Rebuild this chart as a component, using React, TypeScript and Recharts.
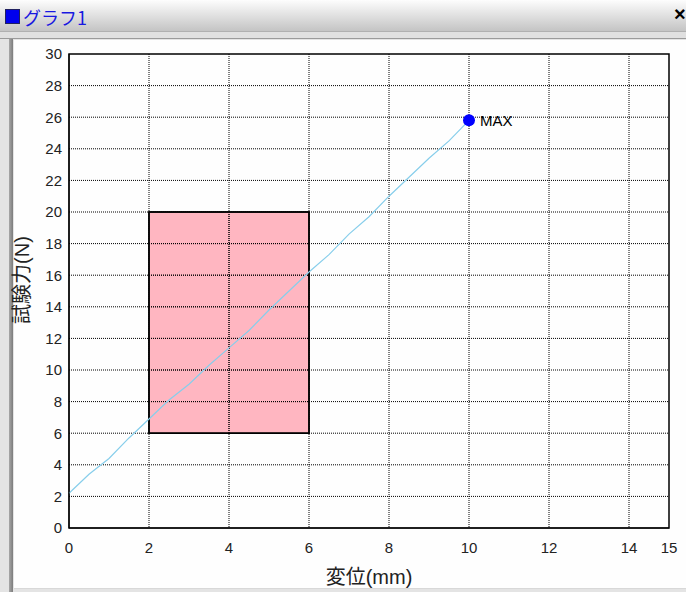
// 試験力-変位グラフ (グラフ1ウィンドウ)
import React from 'react';
import {
  ComposedChart,
  Line,
  XAxis,
  YAxis,
  CartesianGrid,
  ReferenceArea,
  ReferenceDot,
} from 'recharts';

// 変位 (mm)
const displacement = [0, 0.5, 1, 1.5, 2, 2.5, 3, 3.5, 4, 4.5, 5, 5.5, 6, 6.5, 7, 7.5, 8, 8.5, 9, 9.5, 10];
// 試験力 (N)
const force = [2.2, 3.4, 4.4, 5.7, 6.9, 8.1, 9.1, 10.3, 11.4, 12.5, 13.8, 15.0, 16.2, 17.3, 18.6, 19.7, 21.0, 22.2, 23.4, 24.5, 25.8];

const xTicks = [0, 2, 4, 6, 8, 10, 12, 14, 15];
const yTicks = [0, 2, 4, 6, 8, 10, 12, 14, 16, 18, 20, 22, 24, 26, 28, 30];
// 点線のグリッド
const gridX = [2, 4, 6, 8, 10, 12, 14];
const gridY = [2, 4, 6, 8, 10, 12, 14, 16, 18, 20, 22, 24, 26, 28];

// 判定枠 (変位 2-6mm, 試験力 6-20N)
const judgeBox = { x1: 2, x2: 6, y1: 6, y2: 20 };
const maxPoint = { x: 10, y: 25.8 };

const data = displacement.map(function (x, i) {
  return { x: x, force: force[i] };
});

const font = '"Liberation Sans", Arial, "Noto Sans CJK JP", sans-serif';
const tickStyle = { fill: '#222', fontSize: 15, fontFamily: font };

// 枠の中のグリッド点線 (枠の座標から割り出す)
function boxGridLines(x: number, y: number, width: number, height: number) {
  const b = judgeBox;
  const vx = gridX.filter(function (v) { return v > b.x1 && v < b.x2; });
  const hy = gridY.filter(function (v) { return v > b.y1 && v < b.y2; });
  return (
    <g>
      {vx.map(function (v) {
        const px = x + ((v - b.x1) / (b.x2 - b.x1)) * width;
        return (
          <line key={'v' + v} x1={px} x2={px} y1={y} y2={y + height} stroke="#000" strokeDasharray="1 1" />
        );
      })}
      {hy.map(function (v) {
        const py = y + height - ((v - b.y1) / (b.y2 - b.y1)) * height;
        return (
          <line key={'h' + v} x1={x} x2={x + width} y1={py} y2={py} stroke="#000" strokeDasharray="1 1" />
        );
      })}
    </g>
  );
}

// 判定枠: ピンクの矩形
function JudgeBoxShape(props: any) {
  const { x, y, width, height } = props;
  return (
    <g>
      <rect x={x} y={y} width={width} height={height} fill="#ffb6c1" />
      {boxGridLines(x, y, width, height)}
      <rect x={x} y={y} width={width} height={height} fill="none" stroke="#000" strokeWidth={1.5} />
    </g>
  );
}

// ラベル層にも点線を重ねる
function JudgeBoxGrid(props: any) {
  const vb = props.viewBox || {};
  if (vb.width == null) return null;
  return (
    <g>
      {boxGridLines(vb.x, vb.y, vb.width, vb.height)}
      <rect x={vb.x} y={vb.y} width={vb.width} height={vb.height} fill="none" stroke="#000" strokeWidth={1.5} />
    </g>
  );
}

// 縦軸ラベル (左端に縦書き)
function YLabel() {
  return (
    <text
      transform="translate(22, 240) rotate(-90)"
      textAnchor="middle"
      dominantBaseline="central"
      fill="#222"
      fontSize={20}
      fontFamily={font}
    >
      試験力(N)
    </text>
  );
}

function App() {
  return (
    <div
      style={{
        position: 'fixed',
        left: 0,
        top: 0,
        width: 686,
        height: 592,
        background: '#e4e4e4',
        overflow: 'hidden',
        fontFamily: font,
      }}
    >
      {/* タイトルバー */}
      <div
        style={{
          position: 'absolute',
          left: 0,
          top: 0,
          width: 686,
          height: 31,
          background: 'linear-gradient(#fdfdfd, #c4c4c4)',
          borderBottom: '1px solid #b0b0b0',
        }}
      >
        <div
          style={{
            position: 'absolute',
            left: 5,
            top: 9,
            width: 13,
            height: 13,
            background: '#0000ee',
            border: '1px solid #202060',
          }}
        />
        <div
          style={{
            position: 'absolute',
            left: 23,
            top: 4,
            fontSize: 18,
            color: '#1818e0',
            fontFamily: '"Noto Sans CJK JP", sans-serif',
          }}
        >
          グラフ1
        </div>
        <div
          style={{
            position: 'absolute',
            left: 674,
            top: 3,
            fontSize: 20,
            fontWeight: 'bold',
            color: '#000',
          }}
        >
          ×
        </div>
      </div>
      <div
        style={{
          position: 'absolute',
          left: 0,
          top: 32,
          width: 686,
          height: 6,
          background: '#e0e0e0',
          borderBottom: '1px solid #9a9a9a',
        }}
      />
      {/* 左の枠 */}
      <div
        style={{
          position: 'absolute',
          left: 9,
          top: 39,
          width: 4,
          height: 553,
          background: 'linear-gradient(90deg, #a8a8a8, #7c7c7c)',
        }}
      />
      {/* 白いパネル */}
      <div
        style={{
          position: 'absolute',
          left: 14,
          top: 40,
          width: 672,
          height: 548,
          background: '#fefefe',
          borderBottom: '1px solid #d8d8d8',
        }}
      />
      {/* グラフ */}
      <div style={{ position: 'absolute', left: 0, top: 40 }}>
        <ComposedChart
          width={686}
          height={548}
          data={data}
          margin={{ top: 14, right: 17, left: 14, bottom: 0 }}
        >
          <CartesianGrid
            stroke="#000"
            strokeDasharray="1 1"
            horizontalValues={gridY}
            verticalValues={gridX}
          />
          <XAxis
            dataKey="x"
            type="number"
            domain={[0, 15]}
            ticks={xTicks}
            interval={0}
            axisLine={{ stroke: '#000' }}
            tickLine={false}
            tickSize={0}
            tickMargin={14}
            tick={tickStyle}
            height={60}
            label={{
              value: '変位(mm)',
              position: 'insideBottom',
              offset: 4,
              style: { fill: '#222', fontSize: 20, fontFamily: font },
            }}
          />
          <YAxis
            type="number"
            domain={[0, 30]}
            ticks={yTicks}
            interval={0}
            axisLine={{ stroke: '#000' }}
            tickLine={false}
            tickSize={0}
            tickMargin={7}
            tick={tickStyle}
            width={55}
            label={{ content: <YLabel /> }}
          />
          <ReferenceArea
            x1={judgeBox.x1}
            x2={judgeBox.x2}
            y1={judgeBox.y1}
            y2={judgeBox.y2}
            shape={<JudgeBoxShape />}
            label={<JudgeBoxGrid />}
          />
          <ReferenceArea
            x1={0}
            x2={15}
            y1={0}
            y2={30}
            fill="none"
            stroke="#000"
            strokeWidth={1.5}
          />
          <Line
            type="linear"
            dataKey="force"
            stroke="#87ceeb"
            strokeWidth={1.2}
            dot={false}
            isAnimationActive={false}
          />
          <ReferenceDot
            x={maxPoint.x}
            y={maxPoint.y}
            r={6}
            fill="#0000ff"
            stroke="none"
            label={{
              value: 'MAX',
              position: 'right',
              offset: 5,
              style: { fill: '#000', fontSize: 15, fontFamily: font },
            }}
          />
        </ComposedChart>
      </div>
    </div>
  );
}

export default App;
